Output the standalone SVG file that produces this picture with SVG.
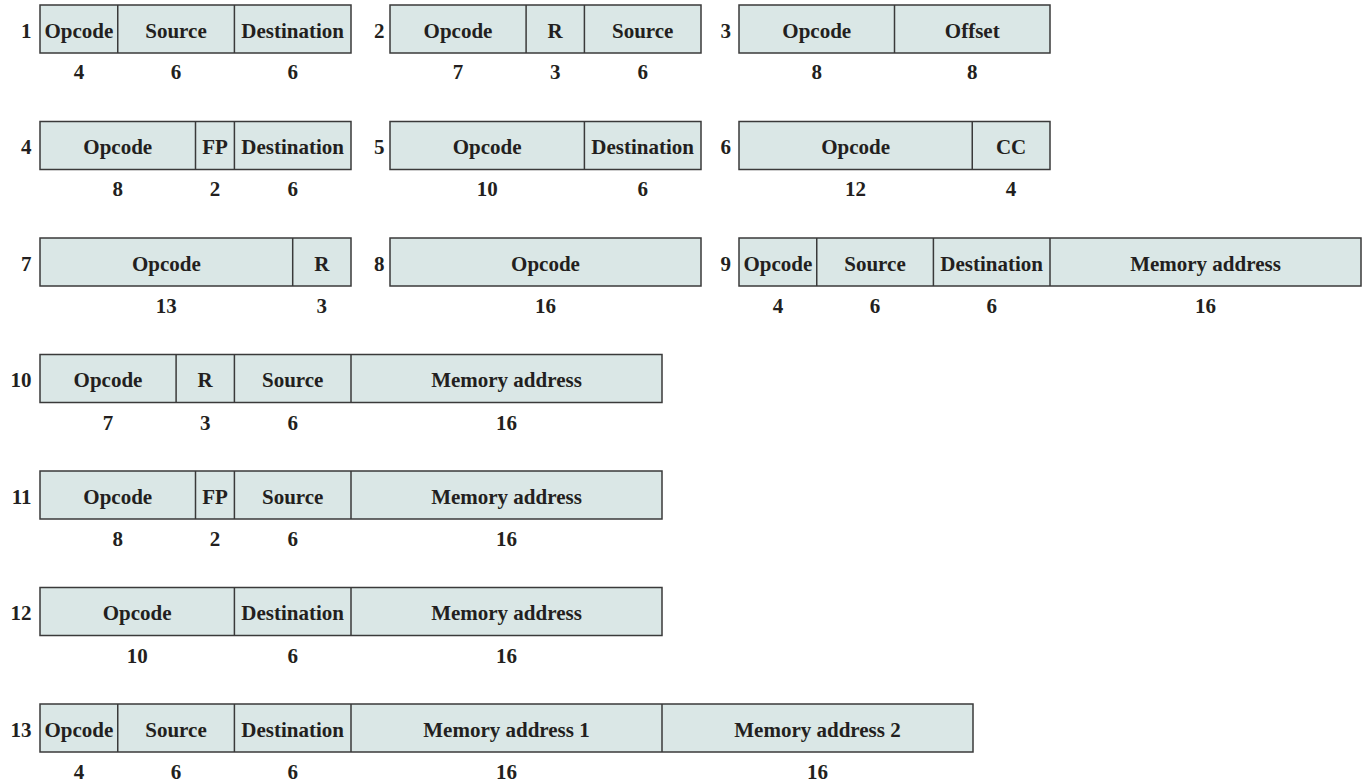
<svg xmlns="http://www.w3.org/2000/svg" width="1363" height="782" viewBox="0 0 1363 782">
<style>
.f{fill:#dae7e6;stroke:#3a3a3a;stroke-width:1.5}
.d{stroke:#3a3a3a;stroke-width:1.5}
text{font-family:"Liberation Serif","Times New Roman",serif;font-weight:bold;fill:#231f20;font-size:21px}
.t{text-anchor:middle}
.n{text-anchor:end}
.b{text-anchor:middle}
</style>
<rect width="1363" height="782" fill="#fff"/>
<!-- Row A -->
<g id="fmt1">
<text class="n" x="31.5" y="37.5">1</text>
<rect class="f" x="40" y="5" width="311" height="48"/>
<line class="d" x1="117.75" y1="5" x2="117.75" y2="53"/><line class="d" x1="234.4" y1="5" x2="234.4" y2="53"/>
<text class="t" x="78.9" y="37.5">Opcode</text><text class="t" x="176" y="37.5">Source</text><text class="t" x="292.7" y="37.5">Destination</text>
<text class="b" x="78.9" y="79">4</text><text class="b" x="176" y="79">6</text><text class="b" x="292.7" y="79">6</text>
</g>
<g id="fmt2">
<text class="n" x="384.5" y="37.5">2</text>
<rect class="f" x="390" y="5" width="311" height="48"/>
<line class="d" x1="526.1" y1="5" x2="526.1" y2="53"/><line class="d" x1="584.4" y1="5" x2="584.4" y2="53"/>
<text class="t" x="458" y="37.5">Opcode</text><text class="t" x="555.2" y="37.5">R</text><text class="t" x="642.7" y="37.5">Source</text>
<text class="b" x="458" y="79">7</text><text class="b" x="555.2" y="79">3</text><text class="b" x="642.7" y="79">6</text>
</g>
<g id="fmt3">
<text class="n" x="731" y="37.5">3</text>
<rect class="f" x="739" y="5" width="311" height="48"/>
<line class="d" x1="894.5" y1="5" x2="894.5" y2="53"/>
<text class="t" x="816.75" y="37.5">Opcode</text><text class="t" x="972.25" y="37.5">Offset</text>
<text class="b" x="816.75" y="79">8</text><text class="b" x="972.25" y="79">8</text>
</g>
<!-- Row B -->
<g id="fmt4">
<text class="n" x="31.5" y="154">4</text>
<rect class="f" x="40" y="121.5" width="311" height="48"/>
<line class="d" x1="195.5" y1="121.5" x2="195.5" y2="169.5"/><line class="d" x1="234.4" y1="121.5" x2="234.4" y2="169.5"/>
<text class="t" x="117.75" y="154">Opcode</text><text class="t" x="215" y="154">FP</text><text class="t" x="292.7" y="154">Destination</text>
<text class="b" x="117.75" y="196">8</text><text class="b" x="215" y="196">2</text><text class="b" x="292.7" y="196">6</text>
</g>
<g id="fmt5">
<text class="n" x="384.5" y="154">5</text>
<rect class="f" x="390" y="121.5" width="311" height="48"/>
<line class="d" x1="584.4" y1="121.5" x2="584.4" y2="169.5"/>
<text class="t" x="487.2" y="154">Opcode</text><text class="t" x="642.7" y="154">Destination</text>
<text class="b" x="487.2" y="196">10</text><text class="b" x="642.7" y="196">6</text>
</g>
<g id="fmt6">
<text class="n" x="731" y="154">6</text>
<rect class="f" x="739" y="121.5" width="311" height="48"/>
<line class="d" x1="972.25" y1="121.5" x2="972.25" y2="169.5"/>
<text class="t" x="855.6" y="154">Opcode</text><text class="t" x="1011.1" y="154">CC</text>
<text class="b" x="855.6" y="196">12</text><text class="b" x="1011.1" y="196">4</text>
</g>
<!-- Row C -->
<g id="fmt7">
<text class="n" x="31.5" y="270.5">7</text>
<rect class="f" x="40" y="238" width="311" height="48"/>
<line class="d" x1="292.7" y1="238" x2="292.7" y2="286"/>
<text class="t" x="166.3" y="270.5">Opcode</text><text class="t" x="321.8" y="270.5">R</text>
<text class="b" x="166.3" y="312.5">13</text><text class="b" x="321.8" y="312.5">3</text>
</g>
<g id="fmt8">
<text class="n" x="384.5" y="270.5">8</text>
<rect class="f" x="390" y="238" width="311" height="48"/>
<text class="t" x="545.5" y="270.5">Opcode</text>
<text class="b" x="545.5" y="312.5">16</text>
</g>
<g id="fmt9">
<text class="n" x="731" y="270.5">9</text>
<rect class="f" x="739" y="238" width="622" height="48"/>
<line class="d" x1="816.75" y1="238" x2="816.75" y2="286"/><line class="d" x1="933.4" y1="238" x2="933.4" y2="286"/><line class="d" x1="1050" y1="238" x2="1050" y2="286"/>
<text class="t" x="777.9" y="270.5">Opcode</text><text class="t" x="875" y="270.5">Source</text><text class="t" x="991.7" y="270.5">Destination</text><text class="t" x="1205.5" y="270.5">Memory address</text>
<text class="b" x="777.9" y="312.5">4</text><text class="b" x="875" y="312.5">6</text><text class="b" x="991.7" y="312.5">6</text><text class="b" x="1205.5" y="312.5">16</text>
</g>
<!-- Row D -->
<g id="fmt10">
<text class="n" x="31.5" y="387">10</text>
<rect class="f" x="40" y="354.5" width="622" height="48"/>
<line class="d" x1="176.1" y1="354.5" x2="176.1" y2="402.5"/><line class="d" x1="234.4" y1="354.5" x2="234.4" y2="402.5"/><line class="d" x1="351" y1="354.5" x2="351" y2="402.5"/>
<text class="t" x="108" y="387">Opcode</text><text class="t" x="205.2" y="387">R</text><text class="t" x="292.7" y="387">Source</text><text class="t" x="506.5" y="387">Memory address</text>
<text class="b" x="108" y="429.5">7</text><text class="b" x="205.2" y="429.5">3</text><text class="b" x="292.7" y="429.5">6</text><text class="b" x="506.5" y="429.5">16</text>
</g>
<!-- Row E -->
<g id="fmt11">
<text class="n" x="31.5" y="503.5">11</text>
<rect class="f" x="40" y="471" width="622" height="48"/>
<line class="d" x1="195.5" y1="471" x2="195.5" y2="519"/><line class="d" x1="234.4" y1="471" x2="234.4" y2="519"/><line class="d" x1="351" y1="471" x2="351" y2="519"/>
<text class="t" x="117.75" y="503.5">Opcode</text><text class="t" x="215" y="503.5">FP</text><text class="t" x="292.7" y="503.5">Source</text><text class="t" x="506.5" y="503.5">Memory address</text>
<text class="b" x="117.75" y="546">8</text><text class="b" x="215" y="546">2</text><text class="b" x="292.7" y="546">6</text><text class="b" x="506.5" y="546">16</text>
</g>
<!-- Row F -->
<g id="fmt12">
<text class="n" x="31.5" y="620">12</text>
<rect class="f" x="40" y="587.5" width="622" height="48"/>
<line class="d" x1="234.4" y1="587.5" x2="234.4" y2="635.5"/><line class="d" x1="351" y1="587.5" x2="351" y2="635.5"/>
<text class="t" x="137.2" y="620">Opcode</text><text class="t" x="292.7" y="620">Destination</text><text class="t" x="506.5" y="620">Memory address</text>
<text class="b" x="137.2" y="662.5">10</text><text class="b" x="292.7" y="662.5">6</text><text class="b" x="506.5" y="662.5">16</text>
</g>
<!-- Row G -->
<g id="fmt13">
<text class="n" x="31.5" y="736.5">13</text>
<rect class="f" x="40" y="704" width="933" height="48"/>
<line class="d" x1="117.75" y1="704" x2="117.75" y2="752"/><line class="d" x1="234.4" y1="704" x2="234.4" y2="752"/><line class="d" x1="351" y1="704" x2="351" y2="752"/><line class="d" x1="662" y1="704" x2="662" y2="752"/>
<text class="t" x="78.9" y="736.5">Opcode</text><text class="t" x="176" y="736.5">Source</text><text class="t" x="292.7" y="736.5">Destination</text><text class="t" x="506.5" y="736.5">Memory address 1</text><text class="t" x="817.5" y="736.5">Memory address 2</text>
<text class="b" x="78.9" y="779">4</text><text class="b" x="176" y="779">6</text><text class="b" x="292.7" y="779">6</text><text class="b" x="506.5" y="779">16</text><text class="b" x="817.5" y="779">16</text>
</g>
<g id="connectors"></g>
</svg>
